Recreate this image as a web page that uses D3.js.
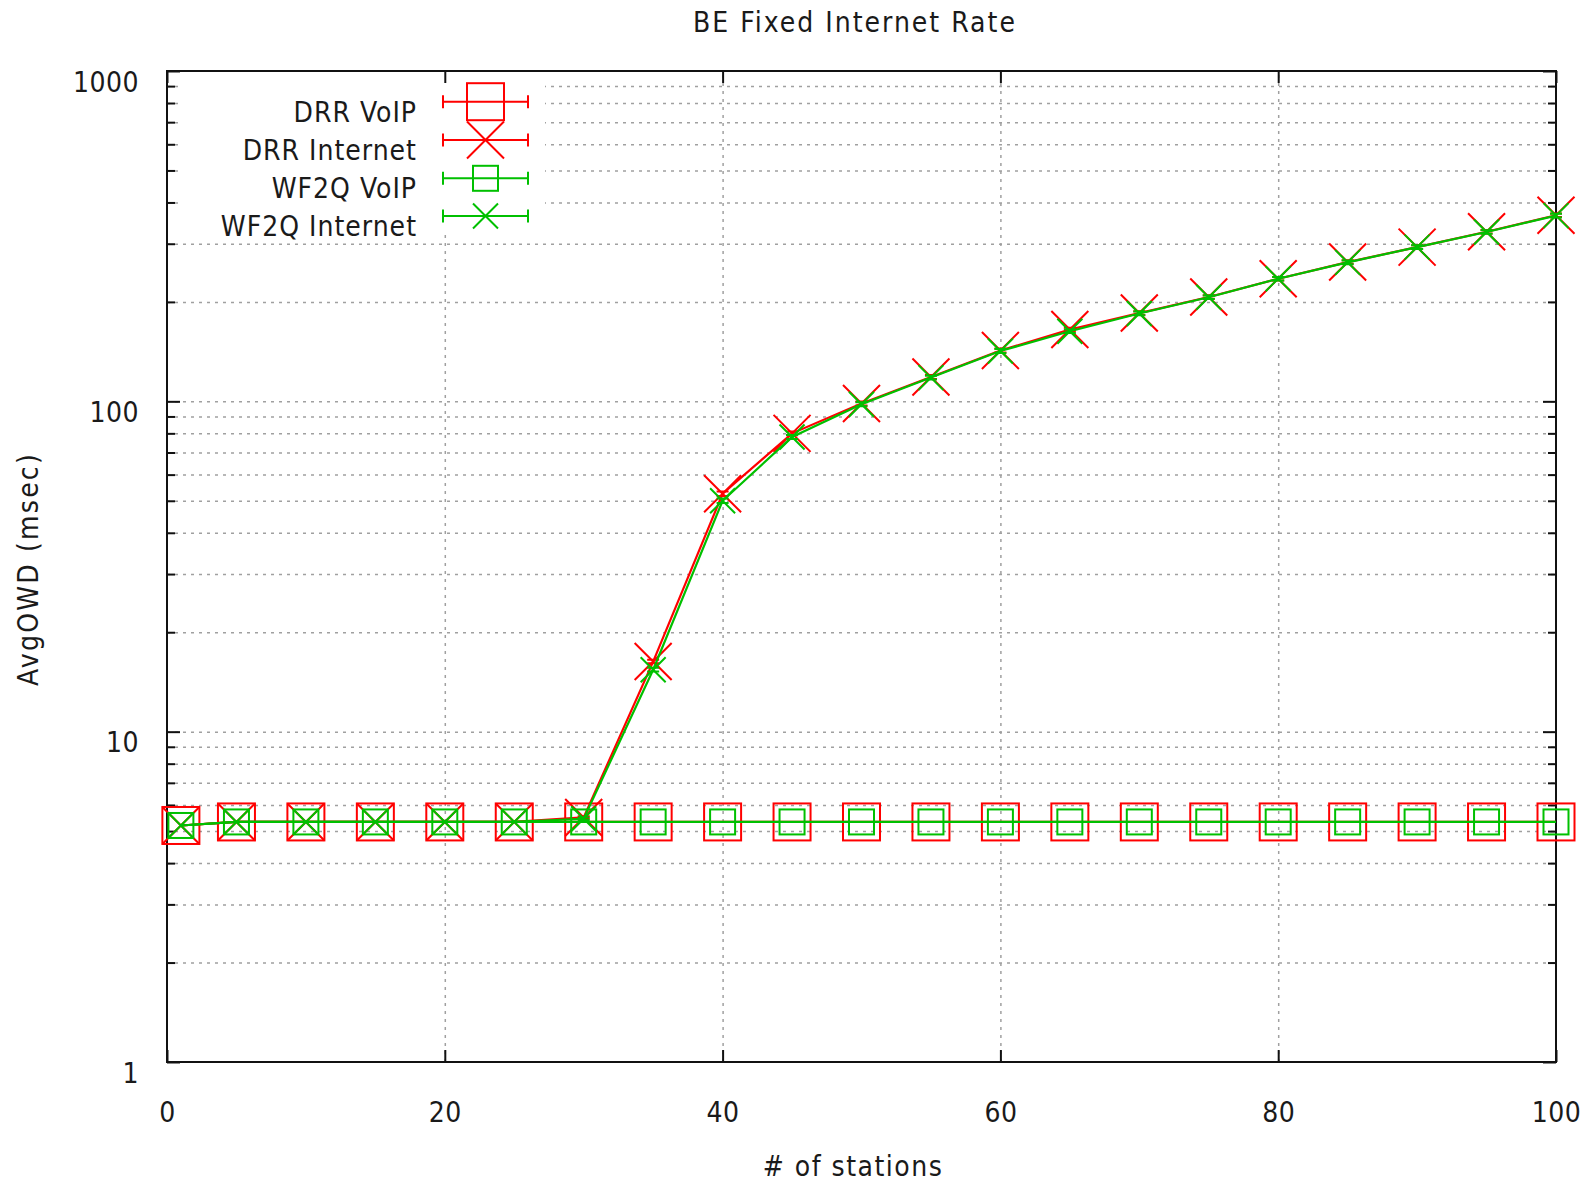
<!DOCTYPE html>
<html>
<head>
<meta charset="utf-8">
<script src="https://cdn.jsdelivr.net/npm/d3@7"></script>
<style>
  html, body { margin: 0; padding: 0; background: #fff; }
  svg text { font-family: "Liberation Sans Narrow", "DejaVu Sans Condensed", "Liberation Sans", sans-serif; fill: #1a1a1a; }
</style>
</head>
<body>
<svg id="chart" width="1584" height="1182"></svg>
<script>
// Number of stations on the x axis
const stations = [1, 5, 10, 15, 20, 25, 30, 35, 40, 45, 50, 55, 60, 65, 70, 75, 80, 85, 90, 95, 100];

// Average one-way delay (msec) per scheduler and traffic class
const drrVoip  = [5.2, 5.33, 5.33, 5.33, 5.33, 5.33, 5.33, 5.33, 5.33, 5.33, 5.33, 5.33, 5.33, 5.33, 5.33, 5.33, 5.33, 5.33, 5.33, 5.33, 5.33];
const drrNet   = [5.2, 5.33, 5.33, 5.33, 5.33, 5.33, 5.5, 16.3, 52.5, 80, 98.5, 118.5, 142.5, 165, 185, 207, 235, 264, 293, 326, 366];
const wfqVoip  = [5.2, 5.33, 5.33, 5.33, 5.33, 5.33, 5.33, 5.33, 5.33, 5.33, 5.33, 5.33, 5.33, 5.33, 5.33, 5.33, 5.33, 5.33, 5.33, 5.33, 5.33];
const wfqNet   = [5.2, 5.33, 5.33, 5.33, 5.33, 5.33, 5.45, 15.4, 50, 78, 98, 118, 142, 163, 184.5, 206.5, 235, 263.5, 293, 325.5, 365];

// Half-width of the error bars (msec)
const drrNetErr = [0, 0, 0, 0, 0, 0, 0.05, 0.2, 0.8, 1.1, 1.3, 1.6, 1.9, 2.1, 2.4, 2.6, 3.0, 3.3, 3.7, 4.1, 4.6];
const wfqNetErr = [0, 0, 0, 0, 0, 0, 0.05, 0.2, 0.8, 1.1, 1.3, 1.6, 1.9, 2.1, 2.4, 2.6, 3.0, 3.3, 3.7, 4.1, 4.6];

// Axis ticks
const xTicks = [0, 20, 40, 60, 80, 100];
const xGrid = [20, 40, 60, 80];
const yMajor = [1, 10, 100, 1000];
const yMinor = [2, 3, 4, 5, 6, 7, 8, 9, 20, 30, 40, 50, 60, 70, 80, 90, 200, 300, 400, 500, 600, 700, 800, 900];

const titleText = "BE Fixed Internet Rate";
const xLabel = "# of stations";
const yLabel = "AvgOWD (msec)";

const series = [
  { name: "DRR VoIP",      values: drrVoip, err: null,      color: "#ff0000", marker: "square", size: 37 },
  { name: "DRR Internet",  values: drrNet,  err: drrNetErr, color: "#ff0000", marker: "cross",  size: 37 },
  { name: "WF2Q VoIP",     values: wfqVoip, err: null,      color: "#00c000", marker: "square", size: 25 },
  { name: "WF2Q Internet", values: wfqNet,  err: wfqNetErr, color: "#00c000", marker: "cross",  size: 25 }
];

const L = 167, R = 1556, T = 71, B = 1062;
const x = d3.scaleLinear().domain([0, 100]).range([L, R]);
const y = d3.scaleLog().domain([1, 1000]).range([B, T]);

const svg = d3.select("#chart");
svg.append("rect").attr("width", 1584).attr("height", 1182).attr("fill", "#fff");

const FS = 28;

// Dotted grid
const gridStyle = g => {
  g.select(".domain").remove();
  g.selectAll("line").attr("stroke", "#a0a0a0").attr("stroke-width", 1.5).attr("stroke-dasharray", "3,5");
  g.selectAll("text").remove();
};
svg.append("g")
  .attr("transform", `translate(${L},0)`)
  .call(d3.axisLeft(y).tickValues(yMinor.concat([10, 100])).tickSize(-(R - L)).tickFormat(""))
  .call(gridStyle);
svg.append("g")
  .attr("transform", `translate(0,${B})`)
  .call(d3.axisBottom(x).tickValues(xGrid).tickSize(-(B - T)).tickFormat(""))
  .call(gridStyle);

// Opaque key area
svg.append("rect").attr("x", 181).attr("y", 73).attr("width", 364).attr("height", 162).attr("fill", "#fff");

// Axes with inward ticks, mirrored on all four sides
const tickStyle = g => {
  g.select(".domain").remove();
  g.selectAll("line").attr("stroke", "#111").attr("stroke-width", 2);
};
svg.append("g").attr("transform", `translate(0,${B})`)
  .call(d3.axisBottom(x).tickValues(xTicks).tickSize(-12).tickPadding(40).tickFormat(d3.format("d")))
  .call(tickStyle)
  .call(g => g.selectAll("text").attr("font-size", FS).attr("letter-spacing", 0.5).style("font-family", null));
svg.append("g").attr("transform", `translate(0,${T})`)
  .call(d3.axisTop(x).tickValues(xTicks).tickSize(-12).tickFormat(""))
  .call(tickStyle);
svg.append("g").attr("transform", `translate(${L},0)`)
  .call(d3.axisLeft(y).tickValues(yMajor).tickSize(-13).tickPadding(28).tickFormat(d3.format("d")))
  .call(tickStyle)
  .call(g => g.selectAll("text").attr("font-size", FS).attr("dy", "0.72em").attr("letter-spacing", 0.5).style("font-family", null));
svg.append("g").attr("transform", `translate(${L},0)`)
  .call(d3.axisLeft(y).tickValues(yMinor).tickSize(-8).tickFormat(""))
  .call(tickStyle);
svg.append("g").attr("transform", `translate(${R},0)`)
  .call(d3.axisRight(y).tickValues(yMajor).tickSize(-13).tickFormat(""))
  .call(tickStyle);
svg.append("g").attr("transform", `translate(${R},0)`)
  .call(d3.axisRight(y).tickValues(yMinor).tickSize(-8).tickFormat(""))
  .call(tickStyle);

// Plot border
svg.append("rect").attr("x", L).attr("y", T).attr("width", R - L).attr("height", B - T)
  .attr("fill", "none").attr("stroke", "#111").attr("stroke-width", 2);

// Titles
svg.append("text").attr("x", 855).attr("y", 32).attr("text-anchor", "middle")
  .attr("font-size", FS).attr("letter-spacing", 2).text(titleText);
svg.append("text").attr("x", 853).attr("y", 1176).attr("text-anchor", "middle")
  .attr("font-size", FS).attr("letter-spacing", 1.5).text(xLabel);
svg.append("text").attr("transform", "translate(38,569) rotate(-90)").attr("text-anchor", "middle")
  .attr("font-size", FS).attr("letter-spacing", 2.2).text(yLabel);

// Marker drawing
function drawMarker(g, type, cx, cy, s, color) {
  const h = s / 2;
  if (type === "square") {
    g.append("rect").attr("x", cx - h).attr("y", cy - h).attr("width", s).attr("height", s)
      .attr("fill", "none").attr("stroke", color).attr("stroke-width", 2);
  } else {
    g.append("path").attr("d", `M${cx - h},${cy - h}L${cx + h},${cy + h}M${cx - h},${cy + h}L${cx + h},${cy - h}`)
      .attr("fill", "none").attr("stroke", color).attr("stroke-width", 2);
  }
}

const line = d3.line().x(d => x(d.x)).y(d => y(d.v));

series.forEach(s => {
  const pts = stations.map((st, i) => ({ x: st, v: s.values[i], e: s.err ? s.err[i] : 0 }));
  const g = svg.append("g");
  g.append("path").datum(pts).attr("d", line)
    .attr("fill", "none").attr("stroke", s.color).attr("stroke-width", 2.2);
  if (s.err) {
    pts.filter(p => p.e > 0).forEach(p => {
      const px = x(p.x), y1 = y(p.v - p.e), y2 = y(p.v + p.e);
      g.append("path").attr("d", `M${px},${y1}L${px},${y2}M${px - 6},${y1}L${px + 6},${y1}M${px - 6},${y2}L${px + 6},${y2}`)
        .attr("fill", "none").attr("stroke", s.color).attr("stroke-width", 2);
    });
  }
  pts.forEach(p => drawMarker(g, s.marker, x(p.x), y(p.v), s.size, s.color));
});

// Legend
const keyRows = [101.7, 140, 178.3, 216];
series.forEach((s, i) => {
  const ry = keyRows[i];
  const g = svg.append("g");
  g.append("text").attr("x", 417).attr("y", ry + 20).attr("text-anchor", "end")
    .attr("font-size", FS).attr("letter-spacing", 1).text(s.name);
  g.append("path").attr("d", `M443,${ry}L528,${ry}M443,${ry - 6.5}L443,${ry + 6.5}M528,${ry - 6.5}L528,${ry + 6.5}`)
    .attr("fill", "none").attr("stroke", s.color).attr("stroke-width", 2);
  drawMarker(g, s.marker, 485.5, ry, s.size, s.color);
});
</script>
</body>
</html>
